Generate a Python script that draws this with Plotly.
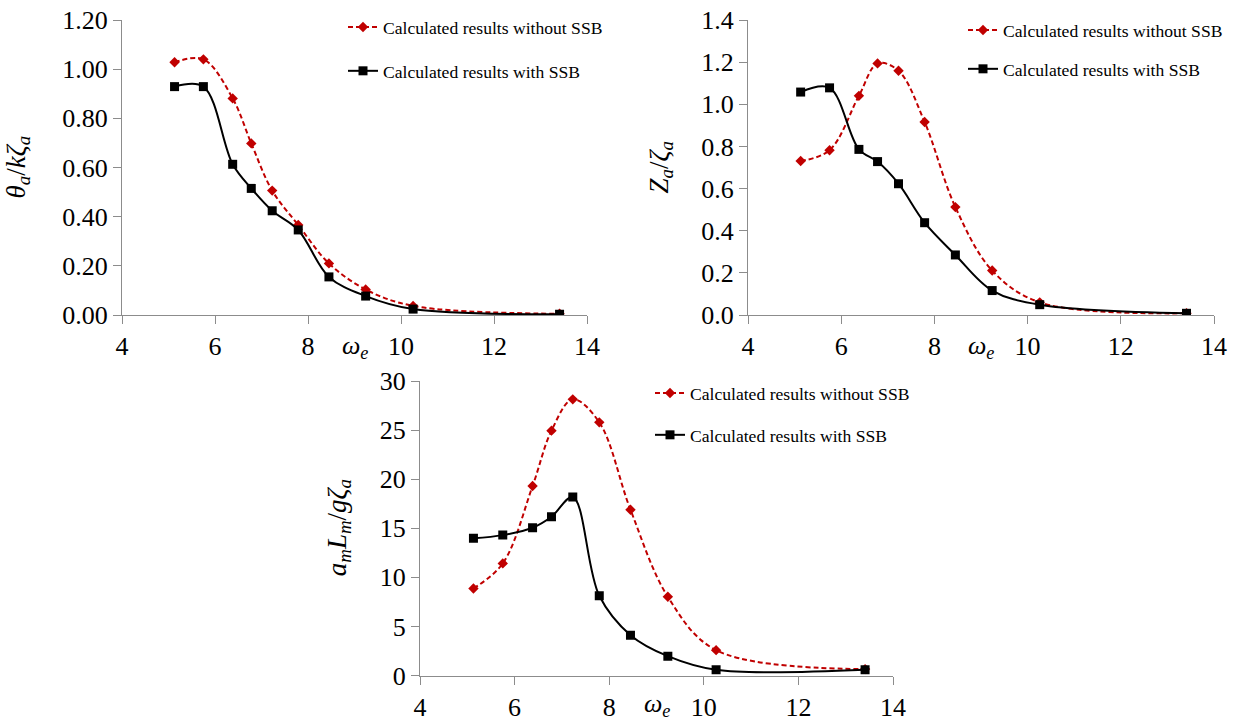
import plotly.graph_objects as go

# ---------------- data ----------------
omega = [5.13, 5.75, 6.38, 6.78, 7.23, 7.79, 8.45, 9.24, 10.26, 13.41]

theta_without = [1.028, 1.040, 0.881, 0.698, 0.506, 0.366, 0.210, 0.104, 0.037, 0.005]
theta_with = [0.929, 0.929, 0.613, 0.515, 0.424, 0.346, 0.155, 0.077, 0.024, 0.003]

z_without = [0.731, 0.782, 1.040, 1.194, 1.159, 0.916, 0.512, 0.211, 0.060, 0.008]
z_with = [1.058, 1.078, 0.786, 0.728, 0.623, 0.438, 0.285, 0.116, 0.049, 0.008]

a_without = [8.87, 11.42, 19.30, 24.94, 28.13, 25.79, 16.89, 8.02, 2.58, 0.65]
a_with = [13.97, 14.30, 15.05, 16.17, 18.18, 8.12, 4.11, 1.97, 0.58, 0.58]

name_without = "Calculated results without SSB"
name_with = "Calculated results with SSB"

x_ticks = [4, 6, 8, 10, 12, 14]

# ---------------- figure ----------------
W, H = 1237, 722
FONT = "Liberation Serif"
RED = "#C00000"
AXC = "#8c8c8c"

fig = go.Figure()

panels = [
    ("x", "y", "legend", theta_without, theta_with, (122, 587, 20, 315), [0, 1.2], 0.2, ".2f",
     "<i>θ<sub>a</sub></i>/<i>kζ<sub>a</sub></i>", 104, -14),
    ("x2", "y2", "legend2", z_without, z_with, (748, 1214, 20, 315), [0, 1.4], 0.2, ".1f",
     "<i>Z<sub>a</sub></i>/<i>ζ<sub>a</sub></i>", 87, -14),
    ("x3", "y3", "legend3", a_without, a_with, (420, 893, 381, 675.5), [0, 30], 5, "d",
     "<i>a<sub>m</sub>L<sub>m</sub></i>/<i>gζ<sub>a</sub></i>", 81, -11),
]

annotations = []
for i, (xa, ya, lg, ywo, ywi, box, yr, dt, fmt, ytitle, tshift, xtshift) in enumerate(panels):
    fig.add_trace(go.Scatter(
        x=omega, y=ywo, name=name_without, xaxis=xa, yaxis=ya, legend=lg,
        legendgroup=f"wo{i}", mode="lines+markers",
        line=dict(color=RED, width=2, dash="5px,3px", shape="spline", smoothing=1.0),
        marker=dict(symbol="diamond", size=8, color=RED),
    ))
    fig.add_trace(go.Scatter(
        x=omega, y=ywi, name=name_with, xaxis=xa, yaxis=ya, legend=lg,
        legendgroup=f"wi{i}", mode="lines+markers",
        line=dict(color="black", width=2, shape="spline", smoothing=1.0),
        marker=dict(symbol="square", size=9, color="black"),
    ))
    x0, x1, y0, y1 = box
    xdom = [x0 / W, x1 / W]
    ydom = [1 - y1 / H, 1 - y0 / H]
    suffix = "" if xa == "x" else xa[1:]
    fig.layout["xaxis" + suffix] = dict(
        domain=xdom, range=[4, 14], tickvals=x_ticks, anchor=ya,
        showline=True, linecolor=AXC, linewidth=1.3, ticks="outside", ticklen=8,
        tickcolor=AXC, tickwidth=1.3, showgrid=False, zeroline=False,
        ticklabeloverflow="allow",
        tickfont=dict(family=FONT, size=26, color="black"),
    )
    fig.layout["yaxis" + suffix] = dict(
        domain=ydom, range=yr, dtick=dt, tick0=0, tickformat=fmt, anchor=xa,
        showline=True, linecolor=AXC, linewidth=1.3, ticks="outside", ticklen=8,
        tickcolor=AXC, tickwidth=1.3, showgrid=False, zeroline=False,
        ticklabeloverflow="allow",
        tickfont=dict(family=FONT, size=26, color="black"),
    )
    annotations.append(dict(
        text="<i>ω<sub>e</sub></i>", xref=xa + " domain", yref=ya + " domain",
        x=0.5, y=0, yanchor="top", xanchor="center", yshift=xtshift, showarrow=False,
        font=dict(family=FONT, size=26, color="black"),
    ))
    annotations.append(dict(
        text=ytitle, xref=xa + " domain", yref=ya + " domain", textangle=-90,
        x=0, y=0.5, xanchor="center", yanchor="middle", xshift=-tshift, showarrow=False,
        font=dict(family=FONT, size=27, color="black"),
    ))

legfont = dict(family=FONT, size=17.6, color="black")
fig.update_layout(
    width=W, height=H, margin=dict(l=0, r=0, t=0, b=0, pad=0, autoexpand=False),
    font=dict(family=FONT, color="black"),
    paper_bgcolor="white", plot_bgcolor="white",
    annotations=annotations,
    legend=dict(x=343 / W, y=1 - 9 / H, xanchor="left", yanchor="top", font=legfont,
                tracegroupgap=18, bgcolor="rgba(0,0,0,0)"),
    legend2=dict(x=963 / W, y=1 - 12 / H, xanchor="left", yanchor="top", font=legfont,
                 tracegroupgap=13, bgcolor="rgba(0,0,0,0)"),
    legend3=dict(x=650 / W, y=1 - 375 / H, xanchor="left", yanchor="top", font=legfont,
                 tracegroupgap=16, bgcolor="rgba(0,0,0,0)"),
)

fig.write_html(
    "out.html",
    config={"displayModeBar": False},
    post_script="document.body.style.margin='0';document.body.style.padding='0';",
)
